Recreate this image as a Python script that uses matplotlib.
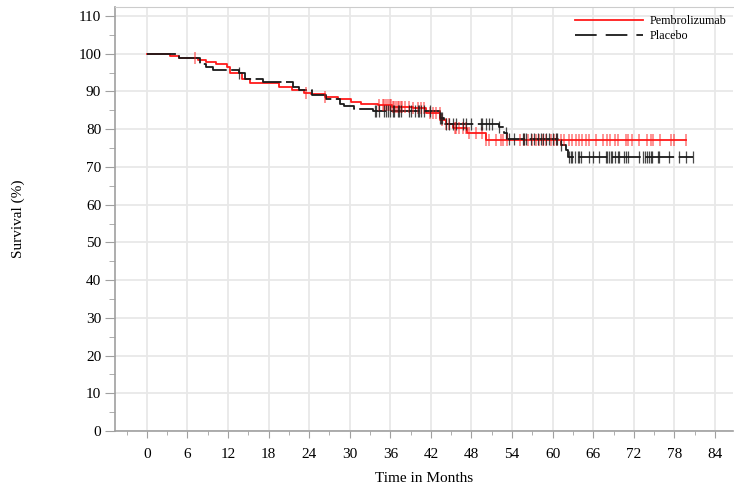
import numpy as np
import matplotlib.pyplot as plt
from matplotlib.ticker import MultipleLocator

plt.rcParams['font.family'] = ['Liberation Serif', 'DejaVu Serif']

# Kaplan-Meier step points (months, survival %)
pembro_t = [0, 3.4, 4.8, 7.5, 8.8, 10.3, 11.8, 12.3, 14.0, 15.3, 19.6, 21.4, 23.3, 24.3,
            26.3, 28.2, 30.2, 31.7, 34.2, 36.3, 39.3, 41.3, 43.4, 44.2, 45.2, 47.4, 50.1]
pembro_s = [100, 99.5, 98.9, 98.3, 97.8, 97.2, 96.5, 94.8, 93.3, 92.3, 91.3, 90.4, 89.7, 89.3,
            88.6, 87.9, 87.3, 86.8, 86.4, 85.9, 85.5, 84.3, 82.4, 81.5, 80.2, 78.9, 77.2]
pembro_end = 79.7
pembro_cens = [7.1, 23.6, 26.4,
               34.4, 34.9, 35.1, 35.4, 35.6, 35.9, 36.1, 36.4, 36.6, 36.9, 37.1, 37.3, 37.6, 37.8,
               38.1, 38.8, 39.3, 40.1, 40.6, 41.0, 41.8, 42.3, 42.8, 43.3, 43.7, 44.2, 44.7, 45.5,
               45.7, 46.2, 46.7, 47.2, 47.7, 48.7, 49.6, 50.1, 50.6, 51.6,
               52.4, 52.6, 53.3, 55.1, 55.8, 56.3, 57.0, 57.5, 58.0, 58.5, 59.0, 59.7, 60.2, 60.7,
               61.2, 61.7, 62.4, 62.9, 63.5, 63.9, 64.4, 64.9, 65.3, 66.4, 67.4, 68.1, 68.5, 69.2,
               69.7, 70.8, 71.2, 71.8, 72.8, 73.9, 74.5, 74.9, 75.8, 77.5, 78.0, 79.7]

placebo_t = [0, 4.6, 4.8, 7.8, 8.8, 9.8, 13.7, 14.5, 17.2, 21.6, 22.5, 24.4, 26.5, 28.5,
             29.2, 30.7, 33.5, 43.3, 44.0, 52.1, 52.8, 53.3, 61.2, 61.9, 62.2]
placebo_s = [100, 99.6, 98.8, 97.4, 96.4, 95.8, 94.8, 93.4, 92.5, 91.1, 90.4, 89.0, 87.9, 86.7,
             86.1, 85.3, 84.8, 83.0, 81.5, 80.5, 79.0, 77.5, 75.8, 74.5, 72.6]
placebo_end = 80.7
placebo_cens = [13.7, 33.7,
                33.9, 34.4, 35.1, 35.4, 35.6, 35.9, 36.4, 36.6, 37.1, 37.3, 37.6, 38.8, 39.1, 39.6,
                40.1, 40.3, 40.6, 41.0, 41.8, 43.3, 43.5, 43.7, 44.2, 44.7, 45.2, 45.7, 46.7, 47.2,
                47.9, 49.4, 49.6, 50.1, 50.6, 51.1, 52.1,
                53.1, 53.6, 54.3, 55.6, 55.8, 56.1, 56.8, 57.3, 57.8, 58.3, 58.5, 59.0, 59.5, 60.0,
                60.5, 60.7, 61.2,
                62.4, 62.7, 62.9, 63.3, 63.7, 63.9, 64.2, 65.3, 65.9, 66.9, 67.9, 68.1, 68.3, 68.6,
                68.8, 69.2, 69.6, 69.8, 70.6, 70.9, 71.2, 72.8, 73.4, 73.7, 73.9, 74.2, 74.5, 74.7,
                75.5, 75.7, 77.2, 78.7, 79.7, 80.7]

xticks = list(range(0, 85, 6))
yticks = list(range(0, 111, 10))

RED = '#ff1a1a'
BLACK = '#1a1a1a'
DASH_CURVE = (0, (16, 2.5))
DASH_LEG = (0, (12, 5))


def surv_at(times, surv, t):
    idx = np.searchsorted(times, t, side='right') - 1
    return np.array(surv)[idx]


fig = plt.figure(figsize=(7.34, 4.88), dpi=100)
ax = fig.add_axes([0.1567, 0.1168, 0.8423, 0.8689])

# curves
for t, s, end, cens, col, ls, a, mw in [
        (pembro_t, pembro_s, pembro_end, pembro_cens, RED, '-', 0.6, 1.1),
        (placebo_t, placebo_s, placebo_end, placebo_cens, BLACK, DASH_CURVE, 0.8, 0.9)]:
    tt = list(t) + [end]
    ss = list(s) + [s[-1]]
    ax.step(tt, ss, where='post', color=col, lw=1.3, linestyle=ls, zorder=3)
    cens = np.array(cens)
    ax.plot(cens, surv_at(t, s, cens), linestyle='none', marker='|', ms=9, mew=mw,
            color=col, alpha=a, zorder=4)

# legend handles
ax.plot([], [], color=RED, lw=1.3, label='Pembrolizumab')
ax.plot([], [], color=BLACK, lw=1.3, linestyle=DASH_LEG, label='Placebo')
h, l = ax.get_legend_handles_labels()
ax.legend(h[-2:], l[-2:], loc='upper right', bbox_to_anchor=(1.003, 1.0), frameon=False,
          fontsize=8.7, handlelength=5.6, handletextpad=0.6, labelspacing=0.2,
          borderaxespad=0.3)

ax.set_xlim(-4.7, 86.7)
ax.set_ylim(0, 112.4)
ax.set_xticks(xticks)
ax.set_yticks(yticks)
ax.xaxis.set_minor_locator(MultipleLocator(3))
ax.yaxis.set_minor_locator(MultipleLocator(5))
ax.grid(True, which='major', color='#e8e8e8', lw=1.3, zorder=0)
ax.set_axisbelow(True)

for side in ['left', 'bottom']:
    ax.spines[side].set_color('#a0a0a0')
    ax.spines[side].set_linewidth(1.2)
ax.spines['top'].set_color('#cccccc')
ax.spines['right'].set_visible(False)

ax.tick_params(axis='both', which='both', color='#a0a0a0', labelsize=11)
ax.tick_params(axis='y', which='major', length=7, pad=3)
ax.tick_params(axis='y', which='minor', length=4)
ax.tick_params(axis='x', which='major', length=5, pad=7)
ax.tick_params(axis='x', which='minor', length=3)

ax.set_xlabel('Time in Months', fontsize=11, labelpad=8)
ax.set_ylabel('Survival (%)', fontsize=11, labelpad=38)

fig.savefig('out.png', dpi=100)
